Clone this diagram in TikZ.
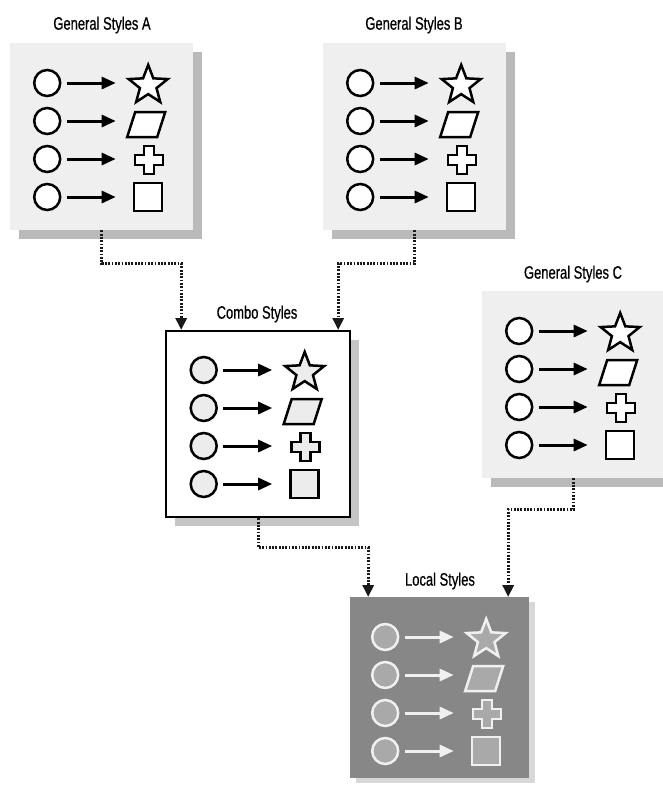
\documentclass[tikz,border=0pt]{standalone}
\usepackage{fontspec}
\newfontfamily\titlefont{Liberation Sans}[FakeStretch=0.72, FakeBold=0.6]
\usetikzlibrary{positioning,arrows.meta,shapes.geometric,shadows}
\definecolor{boxgray}{HTML}{EFEFEF}
\definecolor{shapegray}{HTML}{ECECEC}
\definecolor{localgray}{HTML}{878787}
\definecolor{localfill}{HTML}{A9A9A9}
\definecolor{localline}{HTML}{F0F0F0}
\tikzset{
  genbox/.style={fill=boxgray, anchor=north west, inner sep=0pt, minimum width=183pt, minimum height=187pt,
    drop shadow={shadow xshift=9pt, shadow yshift=-9pt, fill=black!45, opacity=.6}},
  combobox/.style={draw, line width=2.4pt, fill=white, anchor=north west, inner sep=0pt, minimum width=184pt, minimum height=186pt,
    drop shadow={shadow xshift=9pt, shadow yshift=-9pt, fill=black!45, opacity=.5}},
  localbox/.style={fill=localgray, anchor=north west, inner sep=0pt, minimum width=179pt, minimum height=181pt,
    drop shadow={shadow xshift=6pt, shadow yshift=-5pt, fill=black!30, opacity=.5}},
  boxtitle/.style={font=\titlefont\fontsize{18}{18}\selectfont, inner sep=1pt},
  flowline/.style={-{Triangle[length=12pt,width=11pt]}, line width=3pt, dash pattern=on 1.8pt off 1.5pt, draw=black!90}
}
% circle -> shape rows inside a box: box, line colour, fill colour
\newcommand{\stylerows}[3]{%
  \begin{scope}[shift={(#1.north)}, line width=2.5pt, draw=#2]
    \foreach \r in {0,...,3}{
      \draw[fill=#3] (-54.5,40+38*\r) circle (13pt);
      \draw[line width=3pt, -{Triangle[length=14pt,width=12pt]}] (-35,40+38*\r) -- (14,40+38*\r);
    }
    \node[star, star points=5, star point ratio=2.35, minimum size=41pt, inner sep=0pt, draw=#2, fill=#3, line width=2.5pt] (#1-star) at (46.5,42.4) {};
    \draw[fill=#3] (33.5,69) -- (63.5,69) -- (55.5,94) -- (25.5,94) -- cycle;
    \draw[fill=#3] (42.5,103) -- ++(10,0) -- ++(0,9) -- ++(9,0) -- ++(0,10) -- ++(-9,0) -- ++(0,9)
      -- ++(-10,0) -- ++(0,-9) -- ++(-9,0) -- ++(0,-10) -- ++(9,0) -- cycle;
    \draw[fill=#3] (32.5,140) rectangle (60.5,168);
  \end{scope}}

\begin{document}
\begin{tikzpicture}[x=1pt, y=-1pt]
  \useasboundingbox (0,0) rectangle (663,785);

  \node[genbox] (gsA) at (10,43) {};
  \node[genbox] (gsB) at (323,43) {};
  \node[genbox] (gsC) at (482,291) {};
  \node[combobox] (combo) at (165,330) {};
  \node[localbox] (loc) at (350,597) {};

  \node[boxtitle] (tA) at (102,25) {General Styles A};
  \node[boxtitle] (tB) at (414,25) {General Styles B};
  \node[boxtitle] (tC) at (573,274) {General Styles C};
  \node[boxtitle] (tCombo) at (257,314) {Combo Styles};
  \node[boxtitle] (tLoc) at (440,581) {Local Styles};

  \coordinate (comboInA) at ([xshift=-77pt]combo.north);
  \coordinate (comboInB) at ([xshift=80pt]combo.north);
  \coordinate (locInCombo) at ([xshift=-71.5pt]loc.north);
  \coordinate (locInC) at ([xshift=68.5pt]loc.north);
  \draw[flowline] (gsA.south) -- ++(0,33) -| (comboInA);
  \draw[flowline] (gsB.south) -- ++(0,33) -| (comboInB);
  \draw[flowline] (combo.south) -- ++(0,29) -| (locInCombo);
  \draw[flowline] (gsC.south) -- ++(0,31) -| (locInC);

  \stylerows{gsA}{black}{white}
  \stylerows{gsB}{black}{white}
  \stylerows{gsC}{black}{white}
  \stylerows{combo}{black}{shapegray}
  \stylerows{loc}{localline}{localfill}
\end{tikzpicture}
\end{document}
